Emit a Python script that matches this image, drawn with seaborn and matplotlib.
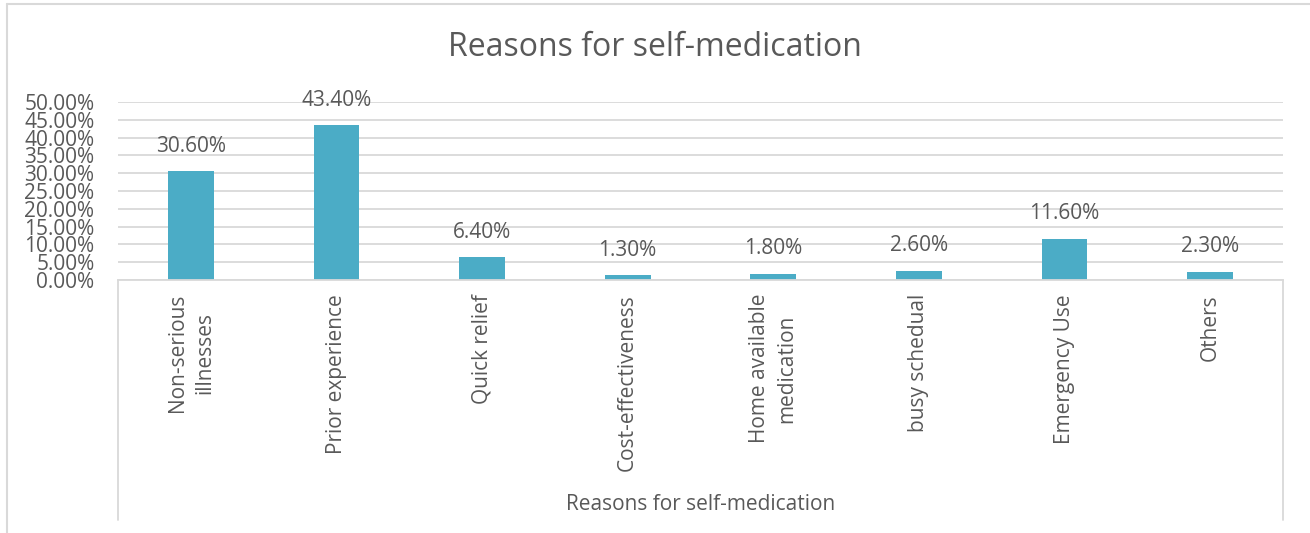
import matplotlib
matplotlib.use("Agg")
import matplotlib.pyplot as plt
from matplotlib.lines import Line2D
import seaborn as sns
import pandas as pd

categories = ["Non-serious\nillnesses", "Prior experience", "Quick relief",
              "Cost-effectiveness", "Home available\nmedication", "busy schedual",
              "Emergency Use", "Others"]
values = [30.6, 43.4, 6.4, 1.3, 1.8, 2.6, 11.6, 2.3]
yticks = [0, 5, 10, 15, 20, 25, 30, 35, 40, 45, 50]

sns.set_theme(style="white")
plt.rcParams['font.family'] = ['Open Sans', 'DejaVu Sans']

TXT = "#595959"
GRID = "#D9D9D9"
BAR = "#4BACC6"

W, H = 1310, 533
fig = plt.figure(figsize=(W / 100, H / 100), dpi=100)
ax = fig.add_axes([118 / W, 1 - 280 / H, (1283 - 118) / W, (280 - 102) / H])

df = pd.DataFrame({"cat": categories, "val": values})
sns.barplot(data=df, x="cat", y="val", color=BAR, width=0.315, ax=ax,
            saturation=1, edgecolor="none")

ax.set_xlim(-0.5, len(categories) - 0.5)
ax.set_ylim(0, 50)
ax.set_yticks(yticks)
ax.set_yticklabels([f"{v:.2f}%" for v in yticks], fontsize=15, color=TXT)
ax.yaxis.grid(True, color=GRID, linewidth=1.3)
ax.set_axisbelow(True)
for s in ["top", "right", "left"]:
    ax.spines[s].set_visible(False)
ax.spines["bottom"].set_color(GRID)
ax.spines["bottom"].set_linewidth(1.3)
ax.tick_params(axis="y", length=0, pad=17)
ax.tick_params(axis="x", length=0, pad=10)
ax.set_xticks(range(len(categories)))
ax.set_xticklabels(categories, rotation=90, fontsize=15, color=TXT,
                   va="top", ha="center", multialignment="center",
                   linespacing=1.4)
for lbl in ax.get_yticklabels():
    lbl.set_ha("right")
ax.set_xlabel("")
ax.set_ylabel("")

for i, v in enumerate(values):
    ax.annotate(f"{v:.2f}%", (i, v), xytext=(0, 18), textcoords="offset points",
                ha="center", va="center", fontsize=15, color=TXT)

fig.text(0.5, 1 - 47 / H, "Reasons for self-medication",
         ha="center", va="center", fontsize=23, color=TXT)
fig.text(0.5 * (118 + 1283) / W, 1 - 505 / H, "Reasons for self-medication",
         ha="center", va="center", fontsize=15, color=TXT)

# category box lines below axis
for xp in (118, 1283):
    fig.add_artist(Line2D([xp / W, xp / W], [1 - 280 / H, 1 - 520 / H],
                          color=GRID, linewidth=1.3))
# outer chart border
fig.add_artist(Line2D([7 / W, 7 / W], [1 - 4 / H, 0], color=GRID, linewidth=1.5))
fig.add_artist(Line2D([7 / W, 1], [1 - 4 / H, 1 - 4 / H], color=GRID, linewidth=1.5))

fig.savefig("out.png", dpi=100)
